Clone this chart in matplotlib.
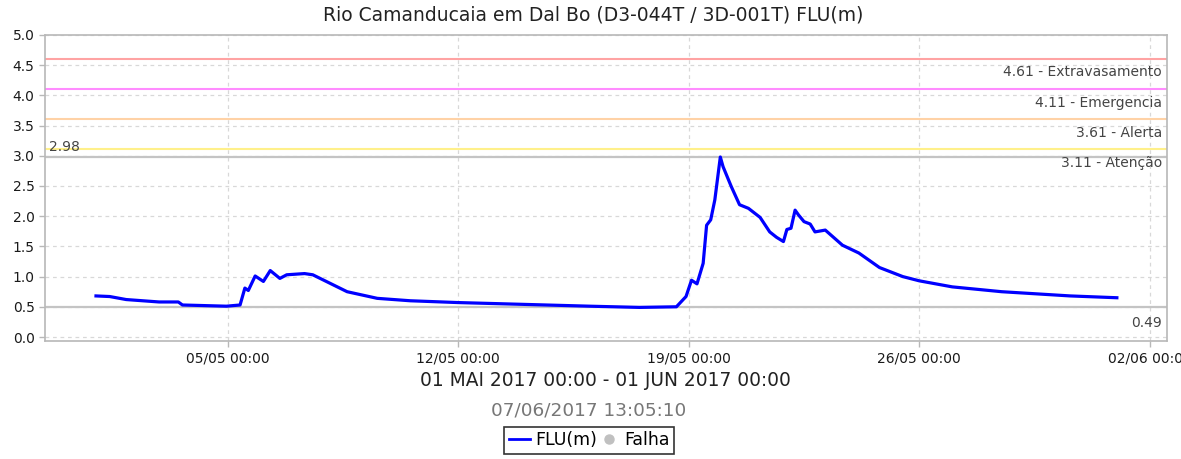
import pandas as pd
import matplotlib
matplotlib.use('Agg')
import matplotlib.pyplot as plt
import matplotlib.dates as mdates
from matplotlib.lines import Line2D

# Leituras do nível (FLU) - maio/2017
times = [
    '2017-05-01 00:00', '2017-05-01 10:00', '2017-05-01 22:00', '2017-05-02 22:00',
    '2017-05-03 12:00', '2017-05-03 15:00', '2017-05-04 23:00', '2017-05-05 09:00',
    '2017-05-05 12:30', '2017-05-05 15:00', '2017-05-05 20:00', '2017-05-06 02:00',
    '2017-05-06 07:00', '2017-05-06 14:00', '2017-05-06 19:00', '2017-05-07 08:00',
    '2017-05-07 14:00', '2017-05-08 15:00', '2017-05-09 13:00', '2017-05-10 13:00',
    '2017-05-12 00:00', '2017-05-14 00:00', '2017-05-16 00:00', '2017-05-17 12:00',
    '2017-05-18 15:00', '2017-05-18 22:00', '2017-05-19 02:00', '2017-05-19 06:00',
    '2017-05-19 10:30', '2017-05-19 13:00', '2017-05-19 16:00', '2017-05-19 19:00',
    '2017-05-19 23:00', '2017-05-20 01:00', '2017-05-20 07:00', '2017-05-20 13:00',
    '2017-05-20 19:30', '2017-05-21 04:00', '2017-05-21 11:00', '2017-05-21 16:00',
    '2017-05-21 21:00', '2017-05-21 23:30', '2017-05-22 02:30', '2017-05-22 05:30',
    '2017-05-22 08:00', '2017-05-22 12:00', '2017-05-22 16:30', '2017-05-22 20:00',
    '2017-05-23 03:30', '2017-05-23 08:30', '2017-05-23 16:00', '2017-05-24 04:00',
    '2017-05-24 19:00', '2017-05-25 12:00', '2017-05-26 00:00', '2017-05-27 00:00',
    '2017-05-28 12:00', '2017-05-30 14:00', '2017-06-01 00:00',
]
levels = [
    0.68, 0.67, 0.62, 0.58,
    0.58, 0.53, 0.51, 0.53,
    0.81, 0.77, 1.01, 0.92,
    1.10, 0.97, 1.03, 1.05,
    1.03, 0.75, 0.64, 0.60,
    0.57, 0.54, 0.51, 0.49,
    0.50, 0.67, 0.94, 0.88,
    1.22, 1.85, 1.94, 2.27,
    2.98, 2.82, 2.49, 2.19,
    2.13, 1.98, 1.74, 1.65,
    1.58, 1.78, 1.80, 2.10,
    2.02, 1.91, 1.87, 1.74,
    1.77, 1.67, 1.52, 1.39,
    1.15, 1.00, 0.93, 0.83,
    0.75, 0.68, 0.65,
]

# Cotas de referência
limit_values = [4.61, 4.11, 3.61, 3.11]
limit_names = ['Extravasamento', 'Emergencia', 'Alerta', 'Atenção']
limit_colors = ['#ffa3a3', '#ff8cff', '#ffd2a6', '#fff08a']

level_max = 2.98
level_min = 0.49

x_start = '2017-04-29 10:50'
x_end = '2017-06-02 12:30'
tick_days = ['2017-05-05', '2017-05-12', '2017-05-19', '2017-05-26', '2017-06-02']

df = pd.DataFrame({'Time': pd.to_datetime(times), 'FLU': levels})

fig = plt.figure(figsize=(11.81, 4.59), dpi=100)
ax = fig.add_axes([0.0381, 0.2571, 0.950, 0.6667])

# linhas de cota
for val, name, col in zip(limit_values, limit_names, limit_colors):
    ax.axhline(val, color=col, linewidth=1.5, zorder=2)
    ax.annotate(f'{val:.2f} - {name}', xy=(0.9955, val), xycoords=('axes fraction', 'data'),
                xytext=(0, -5), textcoords='offset points', ha='right', va='top',
                fontsize=10, color='#444444')

# máximo e mínimo do período
ax.axhline(level_max, color='#c4c4c4', linewidth=1.6, zorder=2)
ax.axhline(level_min, color='#c4c4c4', linewidth=1.6, zorder=2)
ax.annotate(f'{level_max:.2f}', xy=(0.004, level_max), xycoords=('axes fraction', 'data'),
            xytext=(0, 2), textcoords='offset points', ha='left', va='bottom',
            fontsize=10, color='#444444')
ax.annotate(f'{level_min:.2f}', xy=(0.9955, level_min), xycoords=('axes fraction', 'data'),
            xytext=(0, -6), textcoords='offset points', ha='right', va='top',
            fontsize=10, color='#444444')

ax.plot(df['Time'], df['FLU'], color='#0000ff', linewidth=2.3, zorder=3)

ax.set_xlim(pd.Timestamp(x_start), pd.Timestamp(x_end))
ax.set_ylim(-0.066, 5.0)
ax.set_yticks([i * 0.5 for i in range(11)])
ax.yaxis.set_major_formatter(plt.FormatStrFormatter('%.1f'))
ax.set_xticks(pd.to_datetime(tick_days))
ax.xaxis.set_major_formatter(mdates.DateFormatter('%d/%m %H:%M'))

ax.grid(True, color='#d8d8d8', linestyle=(0, (3, 3)), linewidth=0.9)
ax.set_axisbelow(True)
for s in ax.spines.values():
    s.set_color('#b8b8b8')
    s.set_linewidth(1.2)
ax.tick_params(axis='both', colors='#b8b8b8', labelcolor='#1a1a1a', labelsize=10, length=4, width=1)

fig.text(0.502, 0.967, 'Rio Camanducaia em Dal Bo (D3-044T / 3D-001T) FLU(m)',
         ha='center', va='center', fontsize=13.5, color='#222222')
fig.text(0.513, 0.170, '01 MAI 2017 00:00 - 01 JUN 2017 00:00',
         ha='center', va='center', fontsize=13.4, color='#222222')
fig.text(0.498, 0.1046, '07/06/2017 13:05:10',
         ha='center', va='center', fontsize=13.3, color='#777777')

handles = [
    Line2D([], [], color='#0000ff', linewidth=2),
    Line2D([], [], linestyle='none', marker='o', markersize=6.5,
           markerfacecolor='#c0c0c0', markeredgecolor='#c0c0c0'),
]
leg = fig.legend(handles, ['FLU(m)', 'Falha'], loc='center', bbox_to_anchor=(0.499, 0.041),
                 ncol=2, fontsize=12.5, frameon=True, fancybox=False, handlelength=1.2,
                 handletextpad=0.3, columnspacing=0.1, borderpad=0.25, borderaxespad=0)
leg.get_frame().set_edgecolor('black')
leg.get_frame().set_linewidth(1.2)

plt.savefig('out.png', dpi=100)
